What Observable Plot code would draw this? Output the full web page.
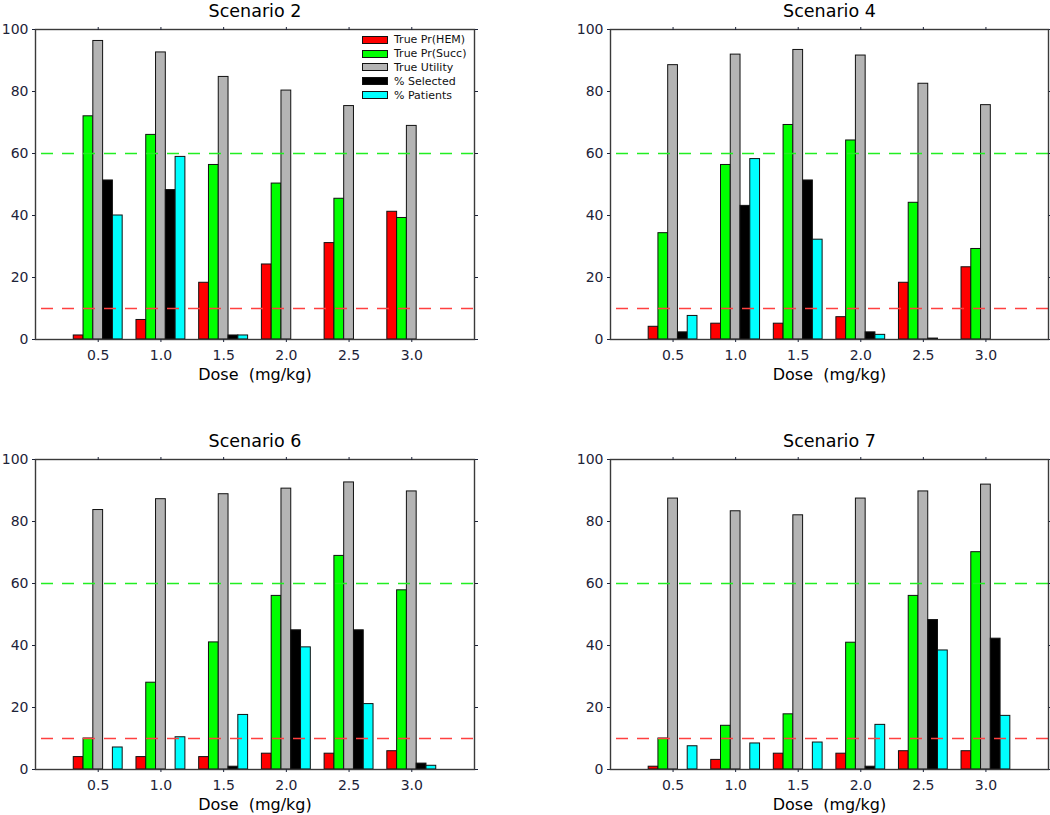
<!DOCTYPE html>
<html>
<head>
<meta charset="utf-8">
<script src="https://cdn.jsdelivr.net/npm/d3@7"></script>
<script src="https://cdn.jsdelivr.net/npm/@observablehq/plot@0.6"></script>
<style>
  html, body { margin: 0; padding: 0; background: #fff; }
  #root { position: relative; width: 1050px; height: 815px; overflow: hidden; background: #fff; font-family: "DejaVu Sans", sans-serif; }
  .panel { position: absolute; }
  #legend { position: absolute; left: 362px; top: 33px; font-family: "DejaVu Sans", sans-serif; font-size: 11px; color: #111; }
  #legend .row { display: flex; align-items: center; height: 13.8px; }
  #legend .sw { width: 24px; height: 6px; border: 1px solid #111; margin-right: 6px; }
</style>
</head>
<body>
<div id="root"></div>
<script>
// ---- data ----
const doses = [0.5, 1.0, 1.5, 2.0, 2.5, 3.0];
const doseTicks = [0.5, 1.0, 1.5, 2.0, 2.5, 3.0];
const yTicks = [0, 20, 40, 60, 80, 100];
const seriesNames = ["True Pr(HEM)", "True Pr(Succ)", "True Utility", "% Selected", "% Patients"];
const seriesColors = ["#ff0000", "#00ff00", "#b4b4b4", "#000000", "#00ffff"];
const scenarioTitles = ["Scenario 2", "Scenario 4", "Scenario 6", "Scenario 7"];
const xLabel = "Dose  (mg/kg)";
const limitSucc = 60;
const limitHem = 10;

// Scenario 2
const s2Hem  = [1.3, 6.3, 18.3, 24.2, 31.1, 41.2];
const s2Succ = [72, 66, 56.3, 50.3, 45.4, 39.2];
const s2Util = [96.3, 92.6, 84.7, 80.3, 75.3, 68.9];
const s2Sel  = [51.3, 48.2, 1.3, 0, 0, 0];
const s2Pat  = [40, 58.9, 1.3, 0, 0, 0];
// Scenario 4
const s4Hem  = [4.1, 5.1, 5.1, 7.2, 18.3, 23.3];
const s4Succ = [34.3, 56.3, 69.2, 64.2, 44.1, 29.2];
const s4Util = [88.5, 91.9, 93.4, 91.6, 82.5, 75.6];
const s4Sel  = [2.3, 43.1, 51.3, 2.3, 0.3, 0];
const s4Pat  = [7.6, 58.2, 32.2, 1.5, 0, 0];
// Scenario 6
const s6Hem  = [4.0, 4.0, 4.0, 5.1, 5.1, 5.9];
const s6Succ = [10, 28, 41, 56, 68.9, 57.8];
const s6Util = [83.7, 87.2, 88.8, 90.6, 92.6, 89.7];
const s6Sel  = [0, 0, 0.9, 44.9, 44.9, 1.9];
const s6Pat  = [7.1, 10.4, 17.6, 39.4, 21.1, 1.2];
// Scenario 7
const s7Hem  = [0.9, 3.1, 5.1, 5.1, 5.9, 5.9];
const s7Succ = [10, 14.1, 17.8, 40.9, 56, 70.1];
const s7Util = [87.4, 83.3, 82, 87.4, 89.7, 91.9];
const s7Sel  = [0, 0, 0, 0.9, 48.2, 42.2];
const s7Pat  = [7.5, 8.4, 8.7, 14.4, 38.4, 17.3];

const scenarioSeries = [
  [s2Hem, s2Succ, s2Util, s2Sel, s2Pat],
  [s4Hem, s4Succ, s4Util, s4Sel, s4Pat],
  [s6Hem, s6Succ, s6Util, s6Sel, s6Pat],
  [s7Hem, s7Succ, s7Util, s7Sel, s7Pat]
];

// ---- layout ----
const barW = 0.078;
const panels = [
  {left: 0,   top: 0,   width: 525, height: 430, ml: 35, mr: 51, mt: 29, mb: 91},
  {left: 525, top: 0,   width: 525, height: 430, ml: 85, mr: 2,  mt: 29, mb: 91},
  {left: 0,   top: 430, width: 525, height: 385, ml: 35, mr: 51, mt: 29, mb: 46},
  {left: 525, top: 430, width: 525, height: 385, ml: 85, mr: 2,  mt: 29, mb: 46}
];

const root = document.getElementById("root");

scenarioSeries.forEach((series, si) => {
  const rows = [];
  series.forEach((vals, k) => {
    vals.forEach((v, i) => {
      if (v > 0) rows.push({dose: doses[i], k, series: seriesNames[k], value: v});
    });
  });
  const p = panels[si];
  const chart = Plot.plot({
    width: p.width,
    height: p.height,
    marginLeft: p.ml,
    marginRight: p.mr,
    marginTop: p.mt,
    marginBottom: p.mb,
    style: {fontFamily: "DejaVu Sans, sans-serif", color: "#1d2338", background: "white"},
    x: {domain: [0, 3.5]},
    y: {domain: [0, 100]},
    color: {domain: seriesNames, range: seriesColors},
    marks: [
      Plot.rectY(rows, {
        x1: d => d.dose + (d.k - 2.5) * barW,
        x2: d => d.dose + (d.k - 1.5) * barW,
        y1: 0,
        y2: "value",
        fill: "series",
        stroke: "#111",
        strokeWidth: 1
      }),
      Plot.ruleY([limitSucc], {stroke: "#22ee22", strokeWidth: 1.5, strokeDasharray: "12,9", strokeDashoffset: 15}),
      Plot.ruleY([limitHem], {stroke: "#ff4040", strokeWidth: 1.5, strokeDasharray: "12,9", strokeDashoffset: 15}),
      Plot.frame({stroke: "#3a3a3a", strokeWidth: 1.4}),
      Plot.axisY({anchor: "left", ticks: yTicks, tickSize: 3, tickPadding: 4, fontSize: 14, label: null}),
      Plot.axisY({anchor: "right", ticks: yTicks, tickSize: 3, tickFormat: () => "", label: null}),
      Plot.axisX({anchor: "bottom", ticks: doseTicks, tickFormat: d => d.toFixed(1), tickSize: 3, tickPadding: 8, fontSize: 14, label: null}),
      Plot.axisX({anchor: "top", ticks: doseTicks, tickSize: 3, tickFormat: () => "", label: null}),
      Plot.text([scenarioTitles[si]], {text: d => d, frameAnchor: "top", lineAnchor: "bottom", dy: -13, fontSize: 17.5, fill: "#000"}),
      Plot.text([xLabel], {text: d => d, frameAnchor: "bottom", lineAnchor: "bottom", dy: 40, fontSize: 16, fill: "#000"})
    ]
  });
  const div = document.createElement("div");
  div.className = "panel";
  div.style.left = p.left + "px";
  div.style.top = p.top + "px";
  div.appendChild(chart);
  root.appendChild(div);
});

// legend (Scenario 2 panel)
const legend = document.createElement("div");
legend.id = "legend";
seriesNames.forEach((name, k) => {
  const row = document.createElement("div");
  row.className = "row";
  const sw = document.createElement("div");
  sw.className = "sw";
  sw.style.background = seriesColors[k];
  const lab = document.createElement("span");
  lab.textContent = name;
  row.appendChild(sw);
  row.appendChild(lab);
  legend.appendChild(row);
});
root.appendChild(legend);
</script>
</body>
</html>
